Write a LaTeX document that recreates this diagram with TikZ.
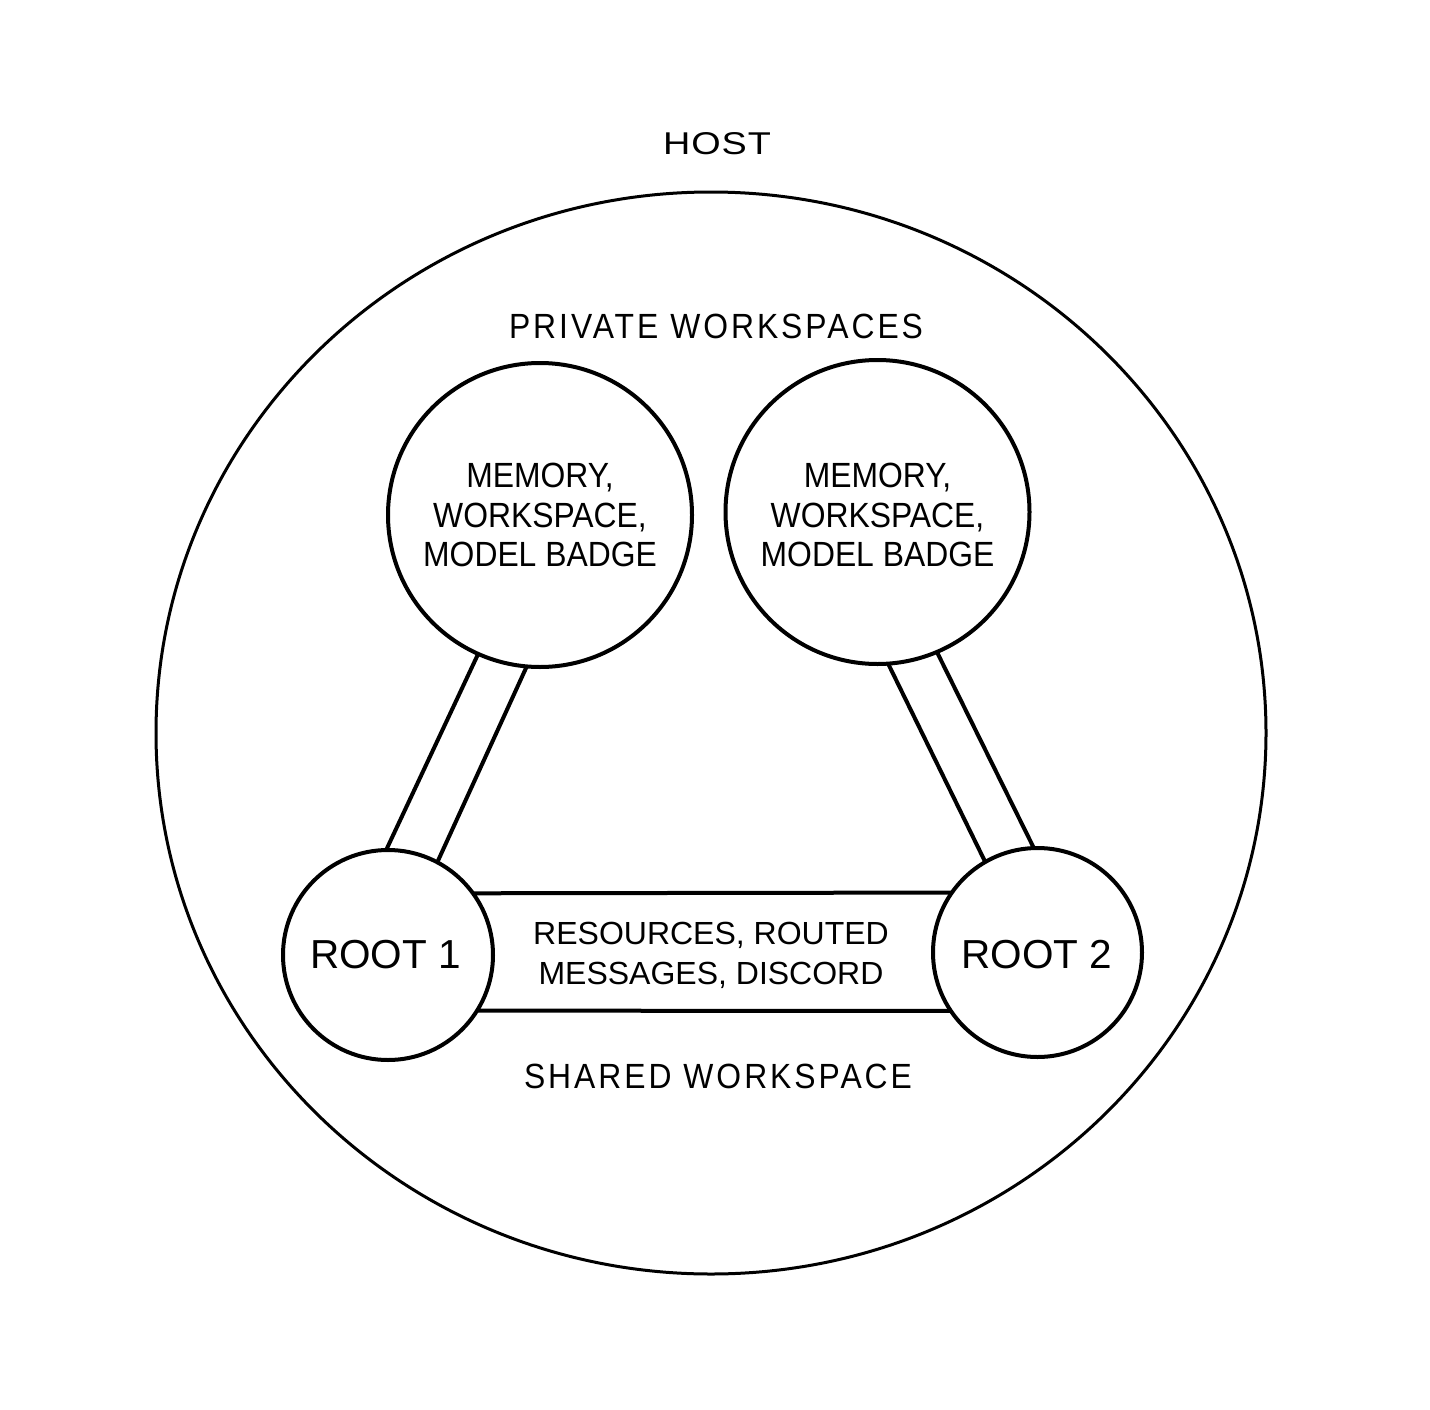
\documentclass[tikz,border=0pt]{standalone}
\usepackage{fontspec}
\setmainfont{Liberation Sans}
\usetikzlibrary{shapes.geometric}
\newcommand{\labfont}[4]{\fontsize{#1}{#4}\selectfont\addfontfeatures{FakeStretch=#2,LetterSpace=#3}}
\tikzset{
  ring/.style={circle, draw, line width=4pt, outer sep=0pt, inner sep=0pt, minimum size=#1},
  link/.style={line width=4pt},
  lbl/.style={inner sep=0pt, outer sep=0pt, align=center}
}
\begin{document}
\begin{tikzpicture}[x=1pt,y=-1pt]
\fill[white] (0,0) rectangle (1430,1410);
\useasboundingbox (0,0) rectangle (1430,1410);
\node[ellipse, draw, line width=3pt, outer sep=0pt, inner sep=0pt, minimum width=1110pt, minimum height=1082pt] (host) at (711,733) {};
\node[ring=304pt] (pw1) at (540,515) {};
\node[ring=304pt] (pw2) at (877.5,512) {};
\node[ring=210pt] (r1) at (388,955) {};
\node[ring=209pt] (r2) at (1037.5,952.5) {};
% connectors
\draw[link] (pw1.246.8) -- (r1.91.6);
\draw[link] (pw1.265.2) -- (r1.62.7);
\draw[link] (pw2.274.7) -- (r2.120.6);
\draw[link] (pw2.293.4) -- (r2.92.4);
\draw[link] (r1.36.2) -- (r2.145.3);
\draw[link] (r1.-32.9) -- (r2.214.7);
% labels
\node[lbl, anchor=base, font=\labfont{31.5}{1.2}{3}{36}] (thost) at (717,155) {HOST};
\node[lbl, anchor=base, font=\labfont{35}{0.91}{8.5}{40}] (tpriv) at (716,338) {PRIVATE WORKSPACES};
\node[lbl, font=\labfont{35}{0.91}{0}{39.5}] (t1) at (540,515) {MEMORY,\\WORKSPACE,\\MODEL BADGE};
\node[lbl, font=\labfont{35}{0.91}{0}{39.5}] (t2) at (877.5,515) {MEMORY,\\WORKSPACE,\\MODEL BADGE};
\node[lbl, anchor=base, font=\labfont{40.5}{1.0}{0}{48}] (tr1) at (385.5,968) {ROOT 1};
\node[lbl, anchor=base, font=\labfont{40.5}{1.0}{0}{48}] (tr2) at (1037,968) {ROOT 2};
\node[lbl, font=\labfont{32}{1.0}{0}{40}] (tshared) at (711,955) {RESOURCES, ROUTED\\MESSAGES, DISCORD};
\node[lbl, anchor=base, font=\labfont{35}{0.91}{8.5}{40}] (tsw) at (718,1088) {SHARED WORKSPACE};
\end{tikzpicture}
\end{document}
